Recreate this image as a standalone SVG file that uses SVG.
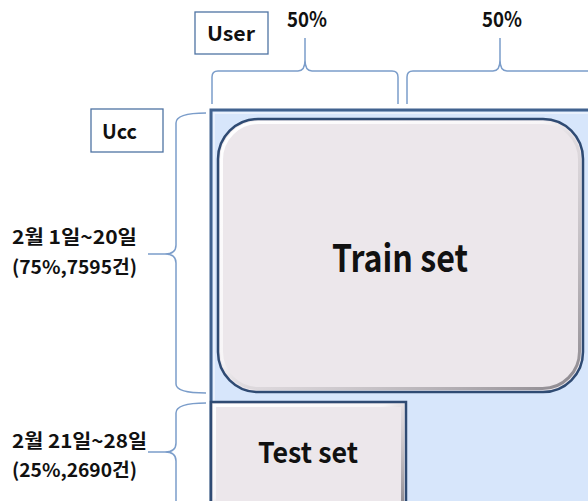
<svg xmlns="http://www.w3.org/2000/svg" width="588" height="501" viewBox="0 0 588 501">
  <defs>
    <linearGradient id="bevel" x1="0" y1="0" x2="1" y2="1">
      <stop offset="0" stop-color="#ffffff"/>
      <stop offset="0.45" stop-color="#ffffff" stop-opacity="0.6"/>
      <stop offset="0.55" stop-color="#b8b4b8" stop-opacity="0.3"/>
      <stop offset="1" stop-color="#8a868c"/>
    </linearGradient>
  </defs>
  <style>
    .lbl { font-family: "Noto Sans CJK KR", "Noto Sans", "Liberation Sans", sans-serif; font-weight: bold; fill: #111; }
    .tag { fill: #ffffff; stroke: #4f73a3; stroke-width: 1.3; }
    .brace { fill: none; stroke: #7b9dca; stroke-width: 1.5; }
    .card { fill: #ece7eb; stroke: #2f4b73; stroke-width: 2.5; }
    .shine { fill: none; stroke: url(#bevel); stroke-width: 3; }
  </style>

  <rect width="588" height="501" fill="#ffffff"/>

  <!-- outer data region -->
  <g id="data-region">
    <rect x="211" y="110" width="390" height="400" fill="#d7e6fb" stroke="#41628f" stroke-width="3"/>
    <rect x="214" y="113" width="384" height="394" fill="none" stroke="#ffffff" stroke-opacity="0.6" stroke-width="1.5"/>
  </g>

  <!-- training partition -->
  <g id="train-set">
    <rect class="card" x="218" y="119" width="365" height="273" rx="40" ry="40"/>
    <rect class="shine" x="221.5" y="122.5" width="358" height="266" rx="37" ry="37"/>
    <text class="lbl" x="332" y="272" font-size="38" textLength="136" lengthAdjust="spacingAndGlyphs">Train set</text>
  </g>

  <!-- test partition -->
  <g id="test-set">
    <rect class="card" x="211" y="402" width="195" height="110"/>
    <rect class="shine" x="214.5" y="405.5" width="188" height="103"/>
    <text class="lbl" x="258" y="463" font-size="28" textLength="100" lengthAdjust="spacingAndGlyphs">Test set</text>
  </g>

  <!-- axis tags -->
  <g id="user-tag">
    <rect class="tag" x="195" y="12" width="73" height="42"/>
    <text class="lbl" x="207" y="41" font-size="20" textLength="48" lengthAdjust="spacingAndGlyphs">User</text>
  </g>
  <g id="ucc-tag">
    <rect class="tag" x="91" y="109" width="72" height="43"/>
    <text class="lbl" x="102" y="139" font-size="20" textLength="35" lengthAdjust="spacingAndGlyphs">Ucc</text>
  </g>

  <!-- split labels -->
  <g id="user-half-1">
    <text class="lbl" x="287" y="27" font-size="21" textLength="40" lengthAdjust="spacingAndGlyphs">50%</text>
  </g>
  <g id="user-half-2">
    <text class="lbl" x="482" y="27" font-size="21" textLength="40" lengthAdjust="spacingAndGlyphs">50%</text>
  </g>
  <g id="period-train">
    <text class="lbl" x="12" y="244" font-size="19" textLength="125" lengthAdjust="spacingAndGlyphs">2월 1일~20일</text>
    <text class="lbl" x="12" y="274" font-size="19" textLength="125" lengthAdjust="spacingAndGlyphs">(75%,7595건)</text>
  </g>
  <g id="period-test">
    <text class="lbl" x="12" y="448" font-size="19" textLength="135" lengthAdjust="spacingAndGlyphs">2월 21일~28일</text>
    <text class="lbl" x="12" y="477" font-size="19" textLength="125" lengthAdjust="spacingAndGlyphs">(25%,2690건)</text>
  </g>

  <!-- braces -->
  <g id="connectors">
    <path class="brace" d="M212,104 V77 Q212,71 218,71 H298 Q305,71 305,60 V38 M305,60 Q305,71 312,71 H392 Q398,71 398,77 V104"/>
    <path class="brace" d="M407,104 V77 Q407,71 413,71 H493 Q500,71 500,60 V38 M500,60 Q500,71 507,71 H600"/>
    <path class="brace" d="M206,113 Q176,113 176,123 V245 Q176,254 165,254 H148 M165,254 Q176,254 176,263 V384 Q176,393 206,393"/>
    <path class="brace" d="M206,403 Q176,403 176,413 V443 Q176,452 165,452 H148 M165,452 Q176,452 176,461 V505"/>
  </g>
</svg>
